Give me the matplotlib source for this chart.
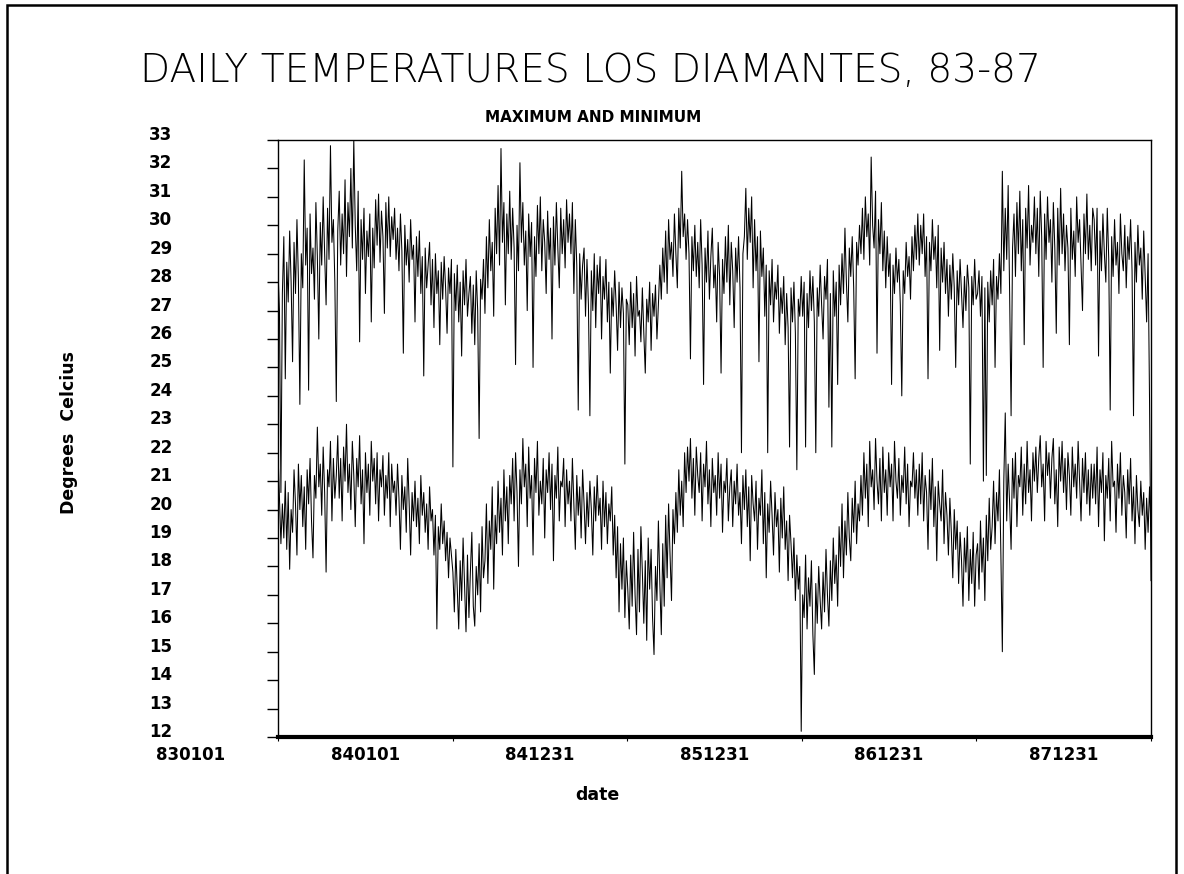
import numpy as np
import matplotlib
matplotlib.use("Agg")
import matplotlib.pyplot as plt
from matplotlib.patches import Rectangle
from matplotlib.transforms import ScaledTranslation, blended_transform_factory

# ---- data: max / min temperature (about 3-day resolution) ----
tmax_1983 = [28.4, 27.0, 20.6, 27.6, 29.6, 24.6, 28.7, 27.3, 29.8, 28.0, 25.2, 29.4, 27.6, 30.2, 28.1, 23.7, 29.0, 27.8, 32.3, 28.6,
             29.9, 24.2, 30.4, 28.3, 29.2, 27.4, 30.8, 28.9, 26.0, 30.1, 28.6, 31.0, 29.0, 27.2, 30.6, 28.8, 32.8, 29.4, 30.2, 28.0,
             23.8, 29.8, 31.2, 28.6, 30.4, 29.0, 31.6, 28.2, 30.8, 29.6, 32.0, 29.2, 33.0, 30.0, 28.4, 31.2, 25.9, 30.2, 28.8, 30.6,
             27.6, 29.8, 28.9, 30.4, 26.6, 29.9, 28.5, 30.9, 29.3, 31.1, 28.7, 30.5, 29.6, 26.9, 30.8, 29.2, 31.0, 28.9, 30.3, 29.5,
             30.6, 28.8, 29.9, 28.4, 30.4, 29.1, 25.5, 30.0, 28.6, 29.5, 28.0, 30.2, 28.8, 29.3, 26.6, 29.6, 28.2, 29.8, 27.6, 28.9,
             24.7, 29.2, 27.8, 28.6, 29.4, 27.2, 28.8, 26.4, 29.0, 27.6, 28.4, 25.8, 28.7, 27.4, 28.9, 27.8, 26.2, 28.5, 27.6, 28.8]
tmax_1984 = [21.5, 28.3, 27.0, 28.6, 26.6, 28.0, 25.4, 28.4, 27.2, 28.8, 26.8, 27.6, 28.2, 26.2, 27.9, 25.8, 28.4, 27.0, 22.5, 28.1,
             27.4, 28.8, 26.9, 29.6, 27.8, 30.2, 28.4, 29.4, 26.8, 30.6, 29.0, 31.4, 28.6, 32.7, 29.4, 30.8, 27.2, 30.4, 29.0, 31.2,
             28.8, 30.6, 29.2, 25.1, 30.0, 28.4, 32.2, 29.4, 30.8, 28.6, 29.8, 27.0, 30.4, 28.9, 30.1, 25.0, 29.6, 28.2, 30.7, 29.0,
             31.0, 28.4, 30.2, 29.4, 27.6, 30.5, 28.8, 29.9, 26.0, 30.3, 28.6, 30.8, 29.2, 27.8, 30.6, 29.0, 30.2, 28.5, 30.9, 29.4,
             30.4, 29.0, 30.8, 27.6, 30.2, 28.6, 23.5, 29.0, 27.4, 28.6, 29.2, 26.8, 28.8, 27.2, 23.3, 28.4, 27.0, 29.0, 26.4, 28.6,
             27.6, 28.9, 26.0, 28.2, 27.4, 28.8, 26.6, 28.0, 24.8, 27.8, 26.8, 28.4, 27.2, 25.6, 28.0, 26.4, 27.8, 26.9, 21.6, 27.4]
tmax_1985 = [27.2, 25.8, 28.0, 26.4, 27.6, 25.4, 28.2, 26.8, 27.0, 25.9, 27.8, 26.2, 24.8, 27.4, 26.6, 28.0, 25.6, 27.6, 26.8, 27.9,
             26.0, 27.2, 28.6, 27.4, 29.2, 28.0, 29.8, 27.6, 30.2, 28.8, 29.4, 28.2, 30.4, 29.0, 27.8, 30.6, 29.2, 31.9, 29.6, 30.4,
             28.8, 30.2, 29.0, 25.3, 29.6, 28.4, 30.0, 28.2, 29.4, 27.8, 30.2, 28.6, 24.4, 29.2, 28.0, 29.8, 27.4, 28.9, 29.9, 27.8,
             28.6, 26.6, 29.4, 28.2, 24.8, 28.8, 27.6, 29.6, 28.0, 30.0, 27.2, 29.4, 28.4, 26.4, 29.2, 28.0, 29.6, 27.8, 22.0, 29.0,
             29.6, 31.3, 28.8, 30.6, 29.4, 31.0, 27.8, 30.2, 28.4, 29.6, 25.2, 29.8, 28.2, 29.2, 26.8, 28.6, 22.0, 28.4, 27.2, 28.8,
             26.6, 28.0, 27.4, 28.6, 26.2, 27.8, 26.9, 28.2, 25.8, 27.6, 26.4, 22.2, 27.8, 26.6, 28.0, 26.2, 21.4, 27.4, 26.8, 28.2]
tmax_1986 = [26.8, 28.0, 22.2, 27.6, 26.4, 28.4, 27.0, 28.2, 26.6, 22.0, 27.8, 26.8, 28.6, 27.2, 26.0, 28.2, 27.4, 28.8, 23.6, 27.6,
             22.2, 28.4, 26.8, 28.0, 24.4, 28.6, 27.2, 29.0, 27.6, 29.9, 28.0, 26.6, 29.2, 28.2, 29.6, 27.8, 24.6, 29.4, 28.6, 30.0,
             29.0, 30.6, 28.8, 31.0, 29.6, 30.4, 28.6, 32.4, 30.0, 29.2, 31.2, 25.5, 30.2, 29.0, 30.8, 28.4, 29.8, 27.8, 29.6, 28.2,
             29.0, 24.4, 28.6, 27.6, 29.2, 28.0, 28.8, 27.2, 24.0, 28.4, 27.6, 29.4, 28.2, 28.9, 27.4, 29.6, 28.4, 30.0, 28.8, 30.4,
             28.6, 30.0, 29.0, 30.4, 28.2, 29.6, 24.6, 29.4, 28.4, 30.2, 28.8, 29.6, 27.8, 30.0, 25.6, 29.2, 28.0, 29.4, 27.6, 28.8,
             26.8, 28.6, 27.4, 29.0, 27.8, 25.0, 28.4, 27.2, 28.8, 27.6, 26.4, 28.2, 27.0, 28.6, 27.8, 21.6, 28.2, 27.2, 28.8, 27.4]
tmax_1987 = [27.6, 28.4, 26.8, 28.2, 21.0, 27.8, 21.2, 28.0, 26.6, 28.4, 27.2, 28.8, 25.0, 28.2, 27.4, 29.0, 27.6, 31.9, 28.4, 30.6,
             28.8, 31.4, 27.6, 23.3, 29.2, 30.4, 28.2, 30.8, 29.0, 31.2, 28.4, 30.2, 25.8, 30.6, 29.2, 31.4, 28.6, 30.0, 29.4, 31.0,
             29.0, 30.6, 28.2, 31.2, 29.6, 25.0, 30.4, 28.8, 31.0, 29.4, 30.2, 28.0, 30.8, 29.2, 26.2, 30.6, 28.6, 31.3, 29.0, 30.4,
             28.4, 30.0, 29.2, 25.8, 30.6, 28.8, 29.8, 28.2, 31.0, 29.4, 30.2, 28.6, 27.0, 30.4, 29.0, 31.1, 28.8, 30.0, 28.4, 30.6,
             30.2, 28.6, 30.6, 25.4, 29.8, 28.4, 30.4, 29.0, 28.0, 30.6, 28.8, 23.5, 29.6, 28.2, 30.2, 28.6, 29.4, 27.6, 30.4, 29.0,
             28.4, 30.0, 27.8, 29.6, 28.8, 30.2, 28.4, 23.3, 29.4, 28.0, 30.0, 28.6, 29.2, 27.4, 29.8, 28.2, 26.6, 29.0, 23.8, 17.5]

tmin_1983 = [22.0, 20.4, 18.8, 20.2, 19.0, 21.0, 18.6, 20.6, 17.9, 20.0, 19.2, 21.4, 20.2, 18.4, 21.6, 20.0, 21.2, 19.4, 20.8, 18.6,
             21.4, 20.2, 21.8, 19.6, 18.3, 21.2, 20.4, 22.9, 20.8, 21.6, 19.8, 22.2, 20.6, 17.8, 21.4, 20.8, 22.4, 19.6, 21.8, 20.4,
             21.2, 22.6, 20.4, 21.8, 19.6, 22.2, 21.0, 23.0, 20.6, 21.6, 20.0, 22.4, 21.2, 19.4, 21.8, 20.8, 22.6, 20.2, 21.4, 18.8,
             22.0, 20.6, 21.6, 19.8, 22.4, 21.0, 21.8, 20.2, 22.0, 19.6, 21.4, 20.8, 21.9, 19.8, 21.2, 20.4, 22.0, 19.4, 21.6, 20.6,
             21.0, 19.8, 21.6, 20.4, 18.6, 21.2, 20.0, 20.8, 19.2, 21.8, 20.2, 18.4, 20.6, 19.6, 21.0, 19.4, 20.4, 18.8, 21.2, 19.8,
             20.6, 19.2, 20.2, 18.6, 20.8, 19.6, 20.0, 18.4, 19.8, 15.8, 19.4, 18.6, 20.2, 18.8, 19.6, 18.2, 19.2, 17.6, 19.0, 18.4]
tmin_1984 = [17.8, 16.4, 18.6, 17.2, 15.8, 18.2, 16.8, 19.0, 17.4, 15.7, 18.4, 16.2, 17.8, 19.2, 16.6, 15.9, 18.0, 17.0, 18.8, 16.4,
             19.4, 17.6, 18.2, 20.2, 17.4, 19.6, 18.6, 20.8, 17.2, 19.8, 18.8, 21.0, 19.2, 20.4, 18.4, 21.4, 19.6, 20.8, 18.8, 21.2,
             20.2, 21.8, 19.6, 22.0, 20.6, 18.0, 21.4, 20.2, 22.5, 20.8, 21.6, 19.4, 22.2, 20.4, 21.2, 18.4, 21.8, 20.6, 22.4, 19.8,
             21.0, 20.2, 21.8, 19.0, 21.4, 20.6, 22.0, 20.0, 21.6, 18.2, 21.2, 20.4, 22.2, 19.6, 21.0, 20.8, 21.8, 19.4, 21.4, 20.2,
             21.0, 19.6, 21.8, 20.2, 18.6, 21.2, 19.8, 20.8, 19.0, 21.4, 20.2, 18.8, 20.6, 19.4, 21.0, 20.0, 18.4, 20.8, 19.6, 21.2,
             19.8, 20.4, 18.6, 21.0, 19.4, 20.6, 18.8, 20.2, 19.6, 20.8, 18.4, 19.8, 17.6, 19.4, 16.4, 18.8, 17.2, 19.0, 16.2, 18.2]
tmin_1985 = [17.2, 15.8, 18.4, 16.6, 19.2, 17.0, 15.6, 18.6, 16.4, 19.4, 17.8, 16.0, 18.2, 15.4, 19.0, 17.2, 18.6, 16.2, 14.9, 18.0,
             16.8, 19.6, 17.4, 15.6, 18.8, 16.6, 19.8, 17.6, 20.2, 18.4, 16.8, 20.0, 18.8, 20.6, 19.2, 21.4, 19.8, 21.0, 19.4, 22.0,
             20.6, 22.2, 21.0, 22.5, 20.4, 21.8, 19.8, 22.2, 21.2, 20.6, 22.0, 19.6, 21.6, 20.8, 22.4, 20.2, 21.4, 19.4, 21.8, 20.6,
             21.2, 19.8, 22.0, 20.4, 21.6, 19.2, 21.0, 20.6, 21.8, 19.6, 20.8, 21.4, 19.4, 21.0, 20.2, 21.6, 19.8, 20.6, 18.8, 21.2,
             20.0, 21.4, 19.4, 20.8, 18.2, 21.2, 20.2, 19.6, 21.0, 18.6, 20.4, 19.8, 21.4, 18.8, 20.6, 17.6, 20.2, 19.2, 21.0, 19.8,
             18.4, 20.6, 19.4, 20.0, 17.8, 20.4, 19.0, 20.8, 18.6, 19.6, 17.5, 19.8, 18.8, 17.6, 19.0, 16.8, 18.4, 17.2, 18.0, 12.2]
tmin_1986 = [17.0, 16.2, 18.4, 15.8, 17.6, 16.6, 18.2, 15.6, 14.2, 17.4, 16.0, 18.0, 16.8, 15.8, 17.8, 16.4, 18.6, 17.0, 15.9, 18.2,
             16.8, 19.0, 17.4, 18.4, 16.6, 19.4, 18.0, 20.2, 17.6, 19.6, 18.4, 20.6, 19.0, 18.2, 20.4, 19.2, 21.0, 18.8, 20.2, 19.6,
             21.2, 19.8, 22.0, 20.4, 21.6, 19.4, 22.4, 20.8, 21.4, 20.0, 22.5, 21.0, 20.2, 21.8, 19.6, 22.2, 20.6, 21.4, 19.8, 22.0,
             20.8, 21.6, 19.6, 22.4, 21.0, 20.4, 21.8, 19.8, 21.2, 20.6, 22.2, 20.2, 21.6, 19.4, 21.0, 20.8, 22.0, 20.4, 21.4, 19.8,
             21.6, 20.2, 22.0, 19.6, 21.2, 20.6, 18.6, 21.4, 20.0, 21.8, 19.4, 20.8, 18.2, 21.0, 20.2, 19.6, 21.4, 18.8, 20.6, 19.8,
             18.4, 20.4, 19.2, 17.6, 20.0, 18.6, 19.6, 17.4, 19.2, 18.2, 16.6, 19.0, 17.8, 19.4, 16.8, 18.6, 17.4, 19.2, 16.6, 18.4]
tmin_1987 = [18.8, 17.2, 19.6, 17.8, 19.0, 16.8, 19.8, 18.2, 20.4, 18.6, 19.4, 21.0, 18.8, 20.6, 19.6, 21.4, 18.4, 15.0, 21.0, 23.4,
             19.6, 21.6, 20.2, 18.6, 21.8, 20.4, 22.0, 19.4, 21.2, 20.8, 22.2, 19.8, 21.6, 20.2, 22.4, 20.6, 21.4, 19.6, 22.0, 21.0,
             22.2, 20.6, 21.8, 22.6, 20.8, 21.6, 19.6, 22.4, 21.2, 22.0, 20.4, 21.8, 22.5, 20.2, 21.4, 19.4, 22.2, 21.0, 22.4, 20.6,
             21.8, 20.0, 22.0, 21.2, 19.8, 22.2, 20.8, 21.6, 20.4, 22.4, 21.0, 19.6, 21.8, 20.6, 22.0, 20.2, 21.4, 19.8, 21.6, 20.4,
             21.6, 20.2, 22.2, 19.4, 21.4, 20.6, 22.0, 18.9, 21.2, 20.4, 21.8, 19.6, 22.4, 20.8, 21.0, 19.2, 21.6, 20.4, 22.0, 19.8,
             21.2, 20.6, 19.0, 21.4, 20.2, 21.8, 19.6, 20.8, 18.8, 21.2, 20.0, 19.4, 21.0, 19.8, 20.6, 18.6, 20.4, 19.2, 20.8, 19.4]

date_labels = ["830101", "840101", "841231", "851231", "861231", "871231"]
y_ticks = list(range(12, 34))

tmax = tmax_1983 + tmax_1984 + tmax_1985 + tmax_1986 + tmax_1987
tmin = tmin_1983 + tmin_1984 + tmin_1985 + tmin_1986 + tmin_1987

total_days = 1826
year_len = total_days / 5
x = np.arange(len(tmax)) * total_days / (len(tmax) - 1)

W, H = 1184, 874
fig = plt.figure(figsize=(W / 100, H / 100), dpi=100)
fig.patch.set_facecolor("white")

# page frame
fig.patches.append(Rectangle((7 / W, -0.05), (1176 - 7) / W, 1.05 - 5 / H,
                             transform=fig.transFigure, fill=False,
                             edgecolor="black", linewidth=1.8))

ax = fig.add_axes([278 / W, 1 - 737 / H, (1151 - 278) / W, (737 - 140) / H])
ax.plot(x, tmax, color="black", linewidth=0.75)
ax.plot(x, tmin, color="black", linewidth=0.75)

ax.set_xlim(0, total_days)
ax.set_ylim(12, 33)
ax.set_yticks(y_ticks)
ax.set_yticklabels([str(v) for v in y_ticks], fontsize=12, fontweight="bold")
ax.tick_params(axis="y", direction="out", length=8, width=1.0, pad=68)
for lab in ax.get_yticklabels():
    lab.set_transform(lab.get_transform() + ScaledTranslation(0, 0.07, fig.dpi_scale_trans))

ax.set_xticks([k * year_len for k in range(6)])
ax.set_xticklabels([])
ax.tick_params(axis="x", direction="out", length=3, width=0.8)

for side in ["top", "right", "left"]:
    ax.spines[side].set_linewidth(1.0)
ax.spines["bottom"].set_linewidth(3.0)

trans = blended_transform_factory(ax.transData, ax.transAxes)
for k, lab in enumerate(date_labels):
    ax.text((k - 0.5) * year_len, -0.03, lab, transform=trans, ha="center", va="center",
            fontsize=12, fontweight="bold", clip_on=False)

fig.text(597 / W, 1 - 795 / H, "date", ha="center", va="center", fontsize=12.5, fontweight="bold")
fig.text(69 / W, 1 - 432 / H, "Degrees  Celcius", rotation=90, ha="center", va="center",
         fontsize=12.5, fontweight="bold")

fig.text(590 / W, 1 - 71 / H, "DAILY TEMPERATURES LOS DIAMANTES, 83-87", ha="center", va="center",
         fontsize=28.2, fontfamily="DejaVu Sans", fontweight=200)
fig.text(593 / W, 1 - 118 / H, "MAXIMUM AND MINIMUM", ha="center", va="center",
         fontsize=11, fontweight="bold")

fig.savefig("out.png", dpi=100)
